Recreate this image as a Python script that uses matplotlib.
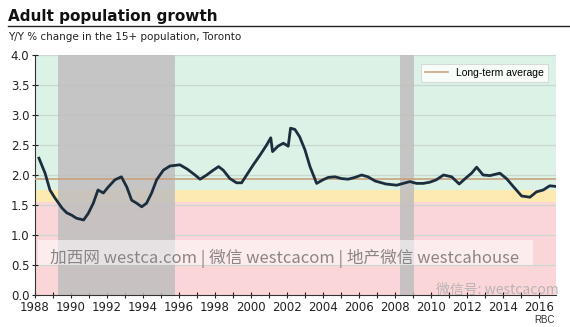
import numpy as np
import matplotlib.pyplot as plt

# Y/Y % change in the 15+ population, Toronto
years = [1988.22, 1988.56, 1988.83, 1989.1, 1989.5, 1989.76, 1990.04, 1990.3, 1990.7,
         1990.96, 1991.24, 1991.5, 1991.8, 1992.07, 1992.44, 1992.8, 1993.1, 1993.37,
         1993.65, 1993.93, 1994.2, 1994.48, 1994.76, 1995.13, 1995.5, 1996.05, 1996.45,
         1996.85, 1997.17, 1997.54, 1997.9, 1998.2, 1998.46, 1998.83, 1999.2, 1999.48,
         1999.76, 2000.13, 2000.5, 2000.87, 2001.1, 2001.2, 2001.5, 2001.8, 2002.07,
         2002.2, 2002.44, 2002.7, 2003.0, 2003.28, 2003.65, 2004.0, 2004.3, 2004.67,
         2005.04, 2005.4, 2005.78, 2006.15, 2006.5, 2006.9, 2007.5, 2008.1, 2008.46,
         2008.83, 2009.2, 2009.57, 2009.94, 2010.3, 2010.7, 2011.15, 2011.57, 2011.98,
         2012.26, 2012.54, 2012.9, 2013.28, 2013.83, 2014.2, 2014.57, 2015.04, 2015.5,
         2015.87, 2016.24, 2016.6, 2016.93]
growth = [2.28, 2.03, 1.75, 1.62, 1.45, 1.37, 1.33, 1.28, 1.25,
          1.36, 1.53, 1.75, 1.70, 1.80, 1.92, 1.97, 1.80, 1.58,
          1.53, 1.47, 1.53, 1.70, 1.92, 2.08, 2.15, 2.17, 2.10,
          2.01, 1.93, 2.00, 2.08, 2.14, 2.08, 1.94, 1.87, 1.87,
          2.00, 2.17, 2.33, 2.50, 2.62, 2.39, 2.48, 2.53, 2.48,
          2.78, 2.76, 2.64, 2.42, 2.14, 1.86, 1.92, 1.96, 1.97,
          1.94, 1.93, 1.96, 2.00, 1.97, 1.90, 1.85, 1.83, 1.86,
          1.89, 1.86, 1.86, 1.88, 1.92, 2.00, 1.97, 1.85, 1.96,
          2.03, 2.13, 2.00, 1.99, 2.03, 1.94, 1.81, 1.65, 1.63,
          1.72, 1.75, 1.82, 1.81]

long_term_avg = 1.93
recessions = [(1989.3, 1995.8), (2008.3, 2009.05)]
zones = [(0.0, 1.55, '#fbd6d9'), (1.55, 1.75, '#fdeab0'), (1.75, 4.0, '#dcf2e6')]

W, H = 570, 327
fig = plt.figure(figsize=(W / 100, H / 100), dpi=100)
ax = fig.add_axes([35 / W, (H - 295) / H, (556 - 35) / W, (295 - 55) / H])

x0, x1 = 1988, 2016.95
for lo, hi, c in zones:
    ax.axhspan(lo, hi, color=c, lw=0, zorder=0)
for y in np.arange(0.5, 4.01, 0.5):
    ax.axhline(y, color='#cbd8d1', lw=0.9, zorder=1)
for a, b in recessions:
    ax.axvspan(a, b, color='#c0bebe', alpha=0.85, lw=0, zorder=2)

ax.axhline(long_term_avg, color='#c9a27e', lw=1.2, zorder=3, label='Long-term average')
ax.plot(years, growth, color='#1c2e3e', lw=2.0, zorder=4, solid_joinstyle='round')

ax.set_xlim(x0, x1)
ax.set_ylim(0, 4)
ax.set_yticks(np.arange(0, 4.01, 0.5))
ax.set_yticklabels([f'{v:.1f}' for v in np.arange(0, 4.01, 0.5)])
ax.set_xticks(range(1988, 2017))
ax.set_xticklabels([str(y) if y % 2 == 0 else '' for y in range(1988, 2017)])
ax.tick_params(direction='inout', length=4, width=0.8, labelsize=8.5, pad=2,
               colors='#222222')
for s in ['top', 'right']:
    ax.spines[s].set_visible(False)
for s in ['left', 'bottom']:
    ax.spines[s].set_color('#333333')
    ax.spines[s].set_linewidth(0.8)

leg = ax.legend(loc='upper right', bbox_to_anchor=(0.995, 0.985),
                frameon=True, fancybox=False, handlelength=2.2, borderpad=0.4,
                prop={'family': 'Liberation Sans', 'size': 7.5})
leg.get_frame().set_edgecolor('#cccccc')
leg.get_frame().set_linewidth(0.6)

# watermark band
ax.axhspan(0.5, 0.92, xmin=0.005, xmax=0.955, color='white', alpha=0.55, lw=0, zorder=5)
fig.text(50 / W, 1 - 258 / H, '加西网 westca.com | 微信 westcacom | 地产微信 westcahouse',
         family=['Noto Sans CJK SC', 'DejaVu Sans'], fontsize=12, color='#8a8585',
         va='center', ha='left', zorder=6)
fig.text(436 / W, 1 - 290 / H, '微信号: westcacom', family=['Noto Sans CJK SC', 'DejaVu Sans'],
         fontsize=10, color='#aaaaaa', alpha=0.8, va='center', ha='left')

# heading
fig.text(8 / W, 1 - 17 / H, 'Adult population growth', fontsize=11, weight='bold',
         va='center', ha='left', color='#111111')
fig.add_artist(plt.Line2D([8 / W, 1.0], [1 - 26 / H, 1 - 26 / H], color='#222222', lw=1))
fig.text(8 / W, 1 - 37 / H, 'Y/Y % change in the 15+ population, Toronto', fontsize=7.5,
         va='center', ha='left', color='#222222')
fig.text(555 / W, 1 - 320 / H, 'RBC', fontsize=7, family='Liberation Sans',
         va='center', ha='right', color='#333333')

fig.savefig('out.png', dpi=100)
